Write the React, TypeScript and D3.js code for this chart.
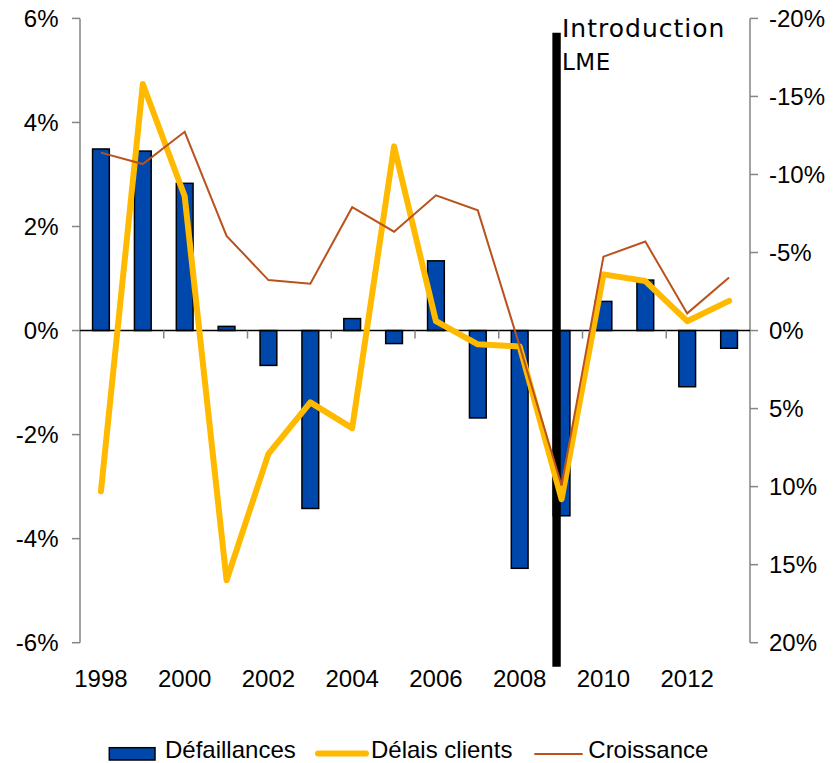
import React from 'react';
import * as d3 from 'd3';

// années
const years = [1998, 1999, 2000, 2001, 2002, 2003, 2004, 2005, 2006, 2007, 2008, 2009, 2010, 2011, 2012, 2013];
const yearLabels = [1998, 2000, 2002, 2004, 2006, 2008, 2010, 2012];

// Défaillances (axe gauche, %)
const defaillances = [3.49, 3.45, 2.83, 0.08, -0.67, -3.42, 0.23, -0.25, 1.34, -1.68, -4.57, -3.56, 0.56, 0.97, -1.08, -0.34];
// Délais clients (axe droit inversé, %)
const delaisClients = [10.3, -15.8, -8.6, 16.0, 7.9, 4.6, 6.25, -11.8, -0.6, 0.88, 1.02, 10.8, -3.6, -3.17, -0.6, -1.9];
// Croissance (axe gauche, %)
const croissance = [3.42, 3.2, 3.82, 1.82, 0.97, 0.9, 2.37, 1.9, 2.6, 2.31, -0.3, -2.98, 1.42, 1.71, 0.33, 1.02];

const leftTicks = [-6, -4, -2, 0, 2, 4, 6];
const rightTicks = [-20, -15, -10, -5, 0, 5, 10, 15, 20];
const lmeYear = 2009;

const W = 835;
const H = 763;
const left = 80;
const right = 750;
const top = 18.4;
const bottom = 642.7;

const font = '"Liberation Sans", Arial, sans-serif';
const blue = '#0047AB';
const yellow = '#FFBA00';
const brown = '#B9521D';
const grey = '#858585';

const App = () => {
  const x = d3.scaleBand<number>().domain(years).range([left, right]).paddingInner(0.6).paddingOuter(0.3);
  const cx = (y: number) => (x(y) as number) + x.bandwidth() / 2;
  const yL = d3.scaleLinear().domain([-6, 6]).range([bottom, top]);
  const yR = d3.scaleLinear().domain([-20, 20]).range([top, bottom]);
  const y0 = yL(0);

  const delaisLine = d3.line<number>()
    .x((_, i) => cx(years[i]))
    .y(d => yR(d));
  const croissLine = d3.line<number>()
    .x((_, i) => cx(years[i]))
    .y(d => yL(d));

  // graduations sur l'axe des abscisses, tous les deux ans
  const gap = (x.step() - x.bandwidth()) / 2;
  const xTicks = yearLabels.slice(1).map(y => (x(y) as number) - gap);

  const lmeX = cx(lmeYear) - 5;

  return (
    <svg width={W} height={H} style={{ position: 'absolute', left: 0, top: 0, background: '#fff' }}>
      {/* axe gauche */}
      <line x1={left} x2={left} y1={top} y2={bottom} stroke={grey} strokeWidth={1.5} />
      {leftTicks.map(t => (
        <g key={'l' + t}>
          <line x1={left - 8} x2={left} y1={yL(t)} y2={yL(t)} stroke={grey} strokeWidth={1.5} />
          <text x={58.5} y={yL(t)} dy="0.36em" textAnchor="end" fontFamily={font} fontSize={24} fill="#000">
            {t + '%'}
          </text>
        </g>
      ))}
      {/* axe droit */}
      <line x1={right} x2={right} y1={top} y2={bottom} stroke={grey} strokeWidth={1.5} />
      {rightTicks.map(t => (
        <g key={'r' + t}>
          <line x1={right} x2={right + 8} y1={yR(t)} y2={yR(t)} stroke={grey} strokeWidth={1.5} />
          <text x={769} y={yR(t)} dy="0.36em" textAnchor="start" fontFamily={font} fontSize={24} fill="#000">
            {t + '%'}
          </text>
        </g>
      ))}

      {/* barres */}
      {years.map((yr, i) => {
        const v = defaillances[i];
        return (
          <rect
            key={'b' + yr}
            x={x(yr)}
            y={Math.min(yL(v), y0)}
            width={x.bandwidth()}
            height={Math.abs(yL(v) - y0)}
            fill={blue}
            stroke="#000"
            strokeWidth={1.5}
          />
        );
      })}

      {/* ligne zéro */}
      <line x1={left} x2={right} y1={y0} y2={y0} stroke="#000" strokeWidth={1.5} />
      {xTicks.map(t => (
        <line key={'xt' + t} x1={t} x2={t} y1={y0} y2={y0 + 8} stroke={grey} strokeWidth={1.5} />
      ))}
      {yearLabels.map(yr => (
        <text key={'xl' + yr} x={cx(yr)} y={686.5} textAnchor="middle" fontFamily={font} fontSize={24} fill="#000">
          {yr}
        </text>
      ))}

      {/* introduction LME */}
      <line x1={lmeX} x2={lmeX} y1={32.7} y2={666.7} stroke="#000" strokeWidth={8.4} />
      <text x={562} y={37.3} fontFamily='"DejaVu Sans", Verdana, sans-serif' fontSize={25} letterSpacing={1} fill="#000">
        Introduction
      </text>
      <text x={562} y={70} fontFamily='"DejaVu Sans", Verdana, sans-serif' fontSize={23} letterSpacing={0.5} fill="#000">
        LME
      </text>

      {/* courbes */}
      <path d={delaisLine(delaisClients) as string} fill="none" stroke={yellow} strokeWidth={6} strokeLinejoin="round" strokeLinecap="round" />
      <path d={croissLine(croissance) as string} fill="none" stroke={brown} strokeWidth={2} strokeLinejoin="miter" />

      {/* légende */}
      <rect x={109.3} y={747.7} width={45.7} height={12.3} fill={blue} stroke="#000" strokeWidth={1.5} />
      <text x={165} y={758.3} fontFamily={font} fontSize={24} fill="#000">Défaillances</text>
      <line x1={318} x2={366} y1={753.5} y2={753.5} stroke={yellow} strokeWidth={6} strokeLinecap="round" />
      <text x={371} y={758.3} fontFamily={font} fontSize={24} fill="#000">Délais clients</text>
      <line x1={534.3} x2={582.7} y1={754} y2={754} stroke={brown} strokeWidth={2} />
      <text x={588.3} y={758.3} fontFamily={font} fontSize={24} fill="#000">Croissance</text>
    </svg>
  );
};

export default App;
